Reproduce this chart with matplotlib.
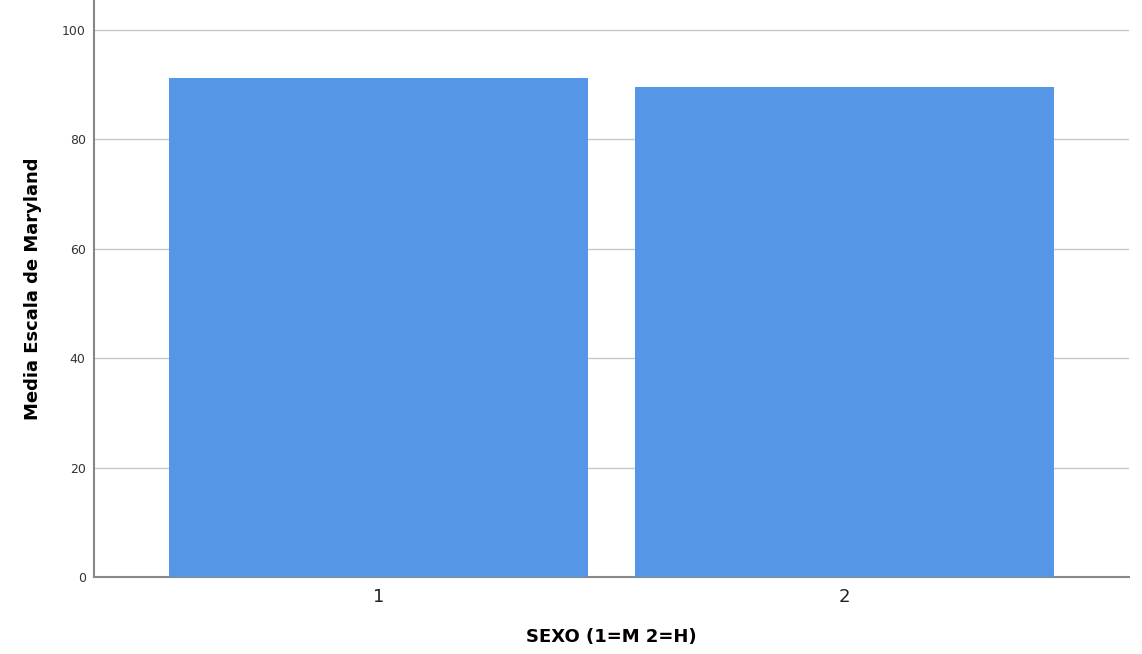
import matplotlib.pyplot as plt

# datos del gráfico
categorias = ["1", "2"]
medias = [91.2, 89.6]
ticks_y = [0, 20, 40, 60, 80, 100]

fig = plt.figure(figsize=(11.42, 6.54), dpi=100)
ax = fig.add_axes([0.0823, 0.1177, 0.9063, 0.8823])

pos = [1, 2]
ax.bar(pos, medias, width=0.9, color="#5596E6", zorder=3)

ax.set_xlim(1 - 0.611, 2 + 0.611)
ax.set_ylim(0, 105.5)
ax.set_yticks(ticks_y)
ax.set_yticklabels([str(t) for t in ticks_y], fontsize=9, color="#333333")
ax.set_xticks(pos)
ax.set_xticklabels(categorias, fontsize=13, color="#222222")
ax.tick_params(axis="both", length=0, pad=8)
ax.tick_params(axis="y", pad=6)

ax.yaxis.grid(True, color="#c8c8c8", linewidth=1, zorder=0)
for s in ["top", "right"]:
    ax.spines[s].set_visible(False)
for s in ["left", "bottom"]:
    ax.spines[s].set_color("#888888")
    ax.spines[s].set_linewidth(1.5)

ax.set_ylabel("Media Escala de Maryland", fontsize=13, fontweight="bold", labelpad=14)
ax.set_xlabel("SEXO (1=M 2=H)", fontsize=13, fontweight="bold", labelpad=16)

fig.savefig("out.png", dpi=100, facecolor="white")
